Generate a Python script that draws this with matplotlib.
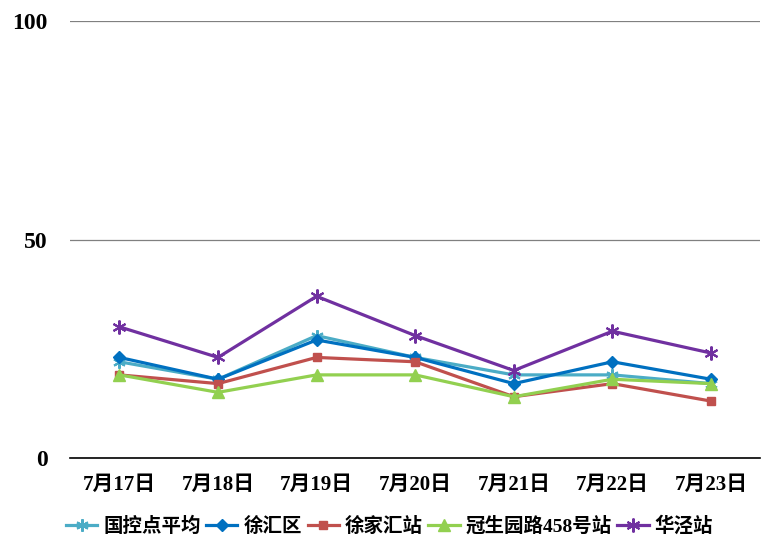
import matplotlib
matplotlib.use("Agg")
import matplotlib.pyplot as plt

plt.rcParams['font.family'] = ['Liberation Serif', 'Noto Sans CJK SC']
plt.rcParams['font.weight'] = 'bold'

# 日期
dates = ["7月17日", "7月18日", "7月19日", "7月20日", "7月21日", "7月22日", "7月23日"]
# 各站点数值
guokong = [22, 18, 28, 23, 19, 19, 17]
xuhui = [23, 18, 27, 23, 17, 22, 18]
xujiahui = [19, 17, 23, 22, 14, 17, 13]
guansheng = [19, 15, 19, 19, 14, 18, 17]
huajing = [30, 23, 37, 28, 20, 29, 24]

fig = plt.figure(figsize=(7.79, 5.57), dpi=100)
ax = fig.add_axes([0.09, 0.178, 0.886, 0.784])

x = range(len(dates))
ax.plot(x, guokong, color='#4BACC6', marker=(6, 2, 0), markersize=9, mew=1.5, lw=2.3, label='国控点平均')
ax.plot(x, xuhui, color='#0070C0', marker='D', markersize=6, lw=2.3, label='徐汇区')
ax.plot(x, xujiahui, color='#C0504D', marker='s', markersize=6, lw=2.3, label='徐家汇站')
ax.plot(x, guansheng, color='#92D050', marker='^', markersize=9, lw=2.3, label='冠生园路458号站')
ax.plot(x, huajing, color='#7030A0', marker=(6, 2, 0), markersize=10, mew=1.5, lw=2.3, label='华泾站')

ax.set_xlim(-0.5, 6.5)
ax.set_ylim(0, 100)
ax.set_yticks([0, 50, 100])
ax.set_xticks(list(x))
ax.set_xticklabels(dates)
ax.tick_params(axis='x', length=0, labelsize=15, pad=12)
ax.tick_params(axis='y', length=0, labelsize=17, pad=16)
ax.grid(axis='y', color='#808080', lw=0.9)
ax.set_axisbelow(True)
for s in ['top', 'right', 'left']:
    ax.spines[s].set_visible(False)
ax.spines['bottom'].set_color('black')
ax.spines['bottom'].set_linewidth(1.2)

fig.legend(loc='center', bbox_to_anchor=(0.5, 0.055), ncol=5, frameon=False,
           fontsize=14, handlelength=1.6, handletextpad=0.3, columnspacing=0.3)

fig.savefig('out.png', dpi=100)
